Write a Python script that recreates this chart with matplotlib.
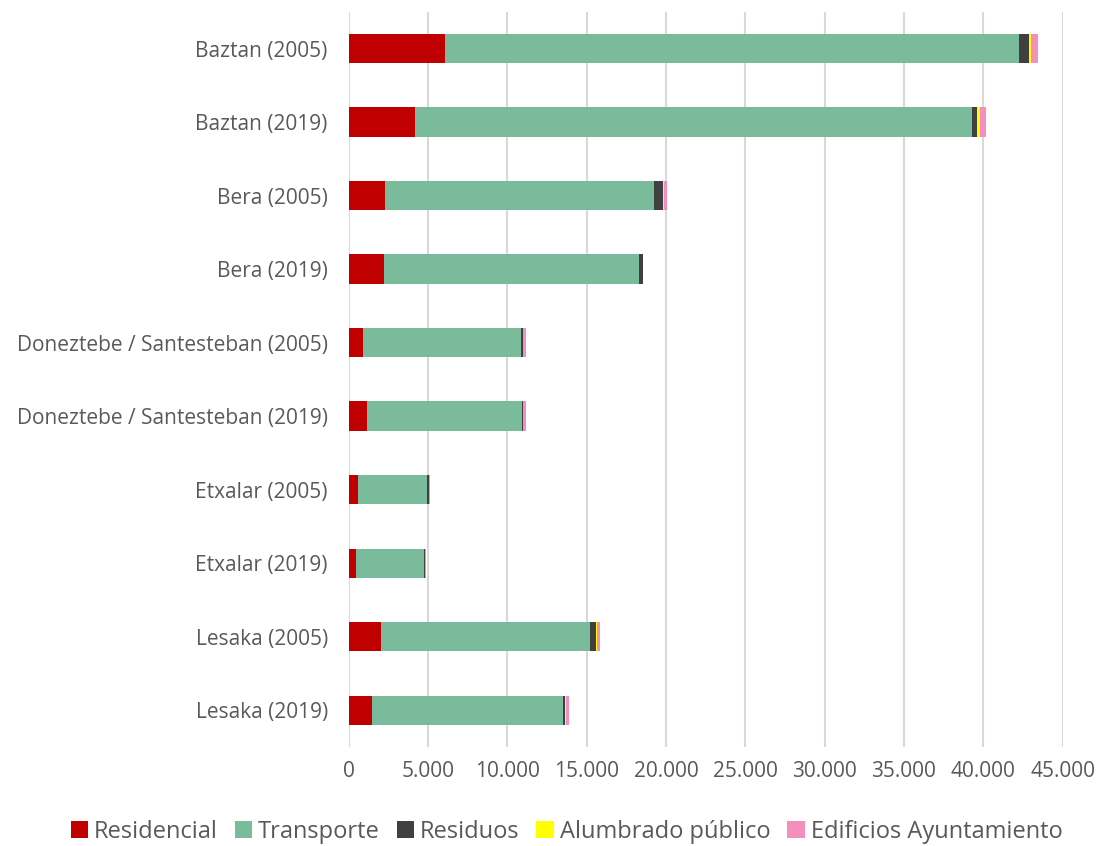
import matplotlib.pyplot as plt
import matplotlib.ticker as mticker
import numpy as np

plt.rcParams['font.family'] = ['Open Sans', 'DejaVu Sans']

municipios = ["Baztan (2005)", "Baztan (2019)", "Bera (2005)", "Bera (2019)",
              "Doneztebe / Santesteban (2005)", "Doneztebe / Santesteban (2019)",
              "Etxalar (2005)", "Etxalar (2019)", "Lesaka (2005)", "Lesaka (2019)"]

residencial = [6090, 4160, 2270, 2200, 900, 1130, 570, 440, 2020, 1490]
transporte = [36150, 35120, 16990, 16110, 9980, 9790, 4370, 4300, 13170, 12010]
residuos = [630, 315, 550, 210, 85, 70, 100, 60, 380, 150]
alumbrado = [150, 190, 60, 40, 20, 10, 10, 10, 80, 30]
edificios = [420, 400, 210, 0, 200, 150, 100, 40, 170, 230]

series = [("Residencial", residencial, "#c00000"),
          ("Transporte", transporte, "#79bb9a"),
          ("Residuos", residuos, "#404040"),
          ("Alumbrado público", alumbrado, "#ffff00"),
          ("Edificios Ayuntamiento", edificios, "#f48fbd")]

fig = plt.figure(figsize=(11, 8.46), dpi=100)
ax = fig.add_axes([0.317, 0.117, 0.649, 0.869])

y = np.arange(len(municipios))
left = np.zeros(len(municipios))
for name, vals, color in series:
    ax.barh(y, vals, left=left, height=0.4, color=color, label=name, zorder=3)
    left += np.array(vals)

ax.set_ylim(len(municipios) - 0.5, -0.5)
ax.set_xlim(0, 45000)
ax.set_xticks(np.arange(0, 45001, 5000))
ax.xaxis.set_major_formatter(mticker.FuncFormatter(lambda v, p: f"{int(v):,}".replace(",", ".")))
ax.set_yticks(y)
ax.set_yticklabels(municipios)
ax.grid(axis='x', color='#d9d9d9', linewidth=1.5, zorder=0)
for s in ax.spines.values():
    s.set_visible(False)
ax.tick_params(length=0, labelsize=15, colors='#595959')
ax.tick_params(axis='y', pad=15)
ax.tick_params(axis='x', pad=10)

handles, labels = ax.get_legend_handles_labels()
fig.legend(handles, labels, loc='center', bbox_to_anchor=(0.515, 0.017), ncol=5, frameon=False,
           fontsize=17, labelcolor='#595959', handlelength=0.75, handleheight=0.75,
           handletextpad=0.25, columnspacing=0.7)

plt.savefig("out.png", dpi=100)
plt.close()
